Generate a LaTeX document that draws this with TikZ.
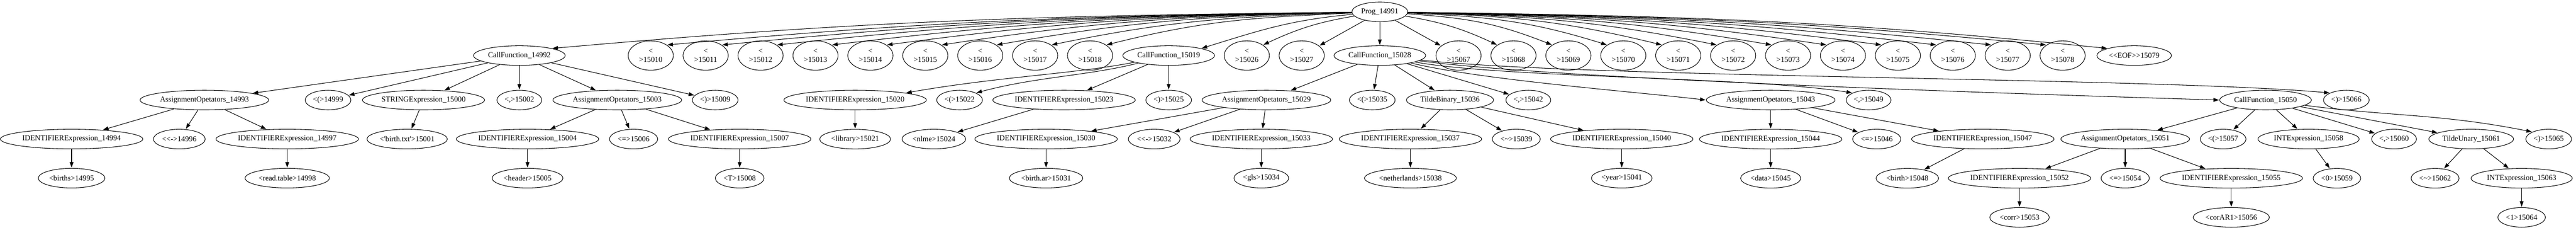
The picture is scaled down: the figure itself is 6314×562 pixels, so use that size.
\documentclass[tikz,border=0pt]{standalone}
\usepackage{fontspec}
\setmainfont{Liberation Serif}[Ligatures=TeXOff]
\usetikzlibrary{positioning,arrows.meta,shapes.geometric}

\begin{document}
\begin{tikzpicture}[x=0.75pt, y=-0.75pt, shorten >= 1pt, node distance=71.8pt and 100.95pt, on grid,
	ast/.style={draw, ellipse, line width=1pt, inner xsep=2pt, inner ysep=1pt, minimum height=36pt, font=\fontsize{14pt}{16.8pt}\selectfont},
	nltok/.style={ast, align=center, minimum width=83pt, minimum height=54pt},
	gvcurve/.style 2 args={to path={.. controls #1 and #2 .. (\tikztotarget) \tikztonodes}},
	>={Triangle[length=10pt, width=7pt]}]
\useasboundingbox (0,0) rectangle (6314,562);
% row 0
\node[ast]   (prog)     at (3382,29)           {Prog\_14991};
% row 1
\node[ast]   (cf14992)  at (1273,136)          {CallFunction\_14992};
\node[nltok] (nl15010)  at (1595,136)          {<\\>15010};
\node[nltok] (nl15011)  [right=of nl15010]     {<\\>15011};
\node[nltok] (nl15012)  [right=of nl15011]     {<\\>15012};
\node[nltok] (nl15013)  [right=of nl15012]     {<\\>15013};
\node[nltok] (nl15014)  [right=of nl15013]     {<\\>15014};
\node[nltok] (nl15015)  [right=of nl15014]     {<\\>15015};
\node[nltok] (nl15016)  [right=of nl15015]     {<\\>15016};
\node[nltok] (nl15017)  [right=of nl15016]     {<\\>15017};
\node[nltok] (nl15018)  [right=of nl15017]     {<\\>15018};
\node[ast]   (cf15019)  at (2864.5,136)        {CallFunction\_15019};
\node[nltok] (nl15026)  at (3056,136)          {<\\>15026};
\node[nltok] (nl15027)  [right=of nl15026]     {<\\>15027};
\node[ast]   (cf15028)  at (3382,136)          {CallFunction\_15028};
\node[nltok] (nl15067)  at (3575,136)          {<\\>15067};
\node[nltok] (nl15068)  [right=of nl15067]     {<\\>15068};
\node[nltok] (nl15069)  [right=of nl15068]     {<\\>15069};
\node[nltok] (nl15070)  [right=of nl15069]     {<\\>15070};
\node[nltok] (nl15071)  [right=of nl15070]     {<\\>15071};
\node[nltok] (nl15072)  [right=of nl15071]     {<\\>15072};
\node[nltok] (nl15073)  [right=of nl15072]     {<\\>15073};
\node[nltok] (nl15074)  [right=of nl15073]     {<\\>15074};
\node[nltok] (nl15075)  [right=of nl15074]     {<\\>15075};
\node[nltok] (nl15076)  [right=of nl15075]     {<\\>15076};
\node[nltok] (nl15077)  [right=of nl15076]     {<\\>15077};
\node[nltok] (nl15078)  [right=of nl15077]     {<\\>15078};
\node[ast]   (eof15079) at (5231,136)          {<<EOF>>15079};
% row 2
\node[ast]   (ao14993)  at (501,245)           {AssignmentOpetators\_14993};
\node[ast]   (lp14999)  at (804,245)           {<(>14999};
\node[ast]   (str15000) at (1038,245)          {STRINGExpression\_15000};
\node[ast]   (cm15002)  at (1273,245)          {<,>15002};
\node[ast]   (ao15003)  at (1513,245)          {AssignmentOpetators\_15003};
\node[ast]   (rp15009)  at (1753,245)          {<)>15009};
\node[ast]   (id15020)  at (2096,245)          {IDENTIFIERExpression\_15020};
\node[ast]   (lp15022)  at (2352,245)          {<(>15022};
\node[ast]   (id15023)  at (2608,245)          {IDENTIFIERExpression\_15023};
\node[ast]   (rp15025)  at (2864.5,245)        {<)>15025};
\node[ast]   (ao15029)  at (3104,245)          {AssignmentOpetators\_15029};
\node[ast]   (lp15035)  at (3363.5,245)        {<(>15035};
\node[ast]   (tb15036)  at (3554,245)          {TildeBinary\_15036};
\node[ast]   (cm15042)  at (3746,245)          {<,>15042};
\node[ast]   (ao15043)  at (4340,245)          {AssignmentOpetators\_15043};
\node[ast]   (cm15049)  at (4580,245)          {<,>15049};
\node[ast]   (cf15050)  at (5553,245)          {CallFunction\_15050};
\node[ast]   (rp15066)  at (5751,245)          {<)>15066};
% row 3
\node[ast]   (id14994)  at (175.5,340.5)       {IDENTIFIERExpression\_14994};
\node[ast]   (as14996)  at (439.5,340.5)       {<<->14996};
\node[ast]   (id14997)  at (704,340.5)         {IDENTIFIERExpression\_14997};
\node[ast]   (s15001)   at (998,340.5)         {<'birth.txt'>15001};
\node[ast]   (id15004)  at (1293,340.5)        {IDENTIFIERExpression\_15004};
\node[ast]   (eq15006)  at (1553,340.5)        {<=>15006};
\node[ast]   (id15007)  at (1813,340.5)        {IDENTIFIERExpression\_15007};
\node[ast]   (l15021)   [below=of id15020]     {<library>15021};
\node[ast]   (l15024)   at (2289,340.5)        {<nlme>15024};
\node[ast]   (id15030)  at (2564,340.5)        {IDENTIFIERExpression\_15030};
\node[ast]   (as15032)  at (2829,340.5)        {<<->15032};
\node[ast]   (id15033)  at (3091.5,340.5)      {IDENTIFIERExpression\_15033};
\node[ast]   (id15037)  at (3457,340.5)        {IDENTIFIERExpression\_15037};
\node[ast]   (tl15039)  at (3716.5,340.5)      {<\textasciitilde>15039};
\node[ast]   (id15040)  at (3975,340.5)        {IDENTIFIERExpression\_15040};
\node[ast]   (id15044)  [below=of ao15043]     {IDENTIFIERExpression\_15044};
\node[ast]   (eq15046)  at (4600,340.5)        {<=>15046};
\node[ast]   (id15047)  at (4860,340.5)        {IDENTIFIERExpression\_15047};
\node[ast]   (ao15051)  at (5209,340.5)        {AssignmentOpetators\_15051};
\node[ast]   (lp15057)  at (5449,340.5)        {<(>15057};
\node[ast]   (ie15058)  at (5658.5,340.5)      {INTExpression\_15058};
\node[ast]   (cm15060)  at (5868,340.5)        {<,>15060};
\node[ast]   (tu15061)  at (6057,340.5)        {TildeUnary\_15061};
\node[ast]   (rp15065)  at (6247,340.5)        {<)>15065};
% row 4
\node[ast]   (l14995)   [below=of id14994]     {<births>14995};
\node[ast]   (l14998)   [below=of id14997]     {<read.table>14998};
\node[ast]   (l15005)   [below=of id15004]     {<header>15005};
\node[ast]   (l15008)   [below=of id15007]     {<T>15008};
\node[ast]   (l15031)   [below=of id15030]     {<birth.ar>15031};
\node[ast]   (l15034)   [below=of id15033]     {<gls>15034};
\node[ast]   (l15038)   [below=of id15037]     {<netherlands>15038};
\node[ast]   (l15041)   [below=of id15040]     {<year>15041};
\node[ast]   (l15045)   [below=of id15044]     {<data>15045};
\node[ast]   (l15048)   at (4675,436.5)        {<birth>15048};
\node[ast]   (id15052)  at (4950,436.5)        {IDENTIFIERExpression\_15052};
\node[ast]   (eq15054)  [below=of ao15051]     {<=>15054};
\node[ast]   (id15055)  at (5469,436.5)        {IDENTIFIERExpression\_15055};
\node[ast]   (l15059)   at (5728,436.5)        {<0>15059};
\node[ast]   (tl15062)  at (5968.6,436.5)      {<\textasciitilde>15062};
\node[ast]   (ie15063)  at (6180.7,436.5)      {INTExpression\_15063};
% row 5
\node[ast]   (l15053)   [below=of id15052]     {<corr>15053};
\node[ast]   (l15056)   [below=of id15055]     {<corAR1>15056};
\node[ast]   (l15064)   [below=of ie15063]     {<1>15064};

\path[->, line width=1pt]
	(prog)    edge[gvcurve={+(-856,10)}{+(783,-69)}] (cf14992.north east)
	          edge[gvcurve={+(-744,10)}{+(670,-60)}] (nl15010.north east)
	          edge[gvcurve={+(-690,10)}{+(616,-60)}] (nl15011.north east)
	          edge[gvcurve={+(-636,10)}{+(562,-60)}] (nl15012.north east)
	          edge[gvcurve={+(-582,10)}{+(508,-60)}] (nl15013.north east)
	          edge[gvcurve={+(-528,10)}{+(454,-60)}] (nl15014.north east)
	          edge[gvcurve={+(-474,10)}{+(400,-60)}] (nl15015.north east)
	          edge[gvcurve={+(-421,10)}{+(347,-60)}] (nl15016.north east)
	          edge[gvcurve={+(-367,12)}{+(293,-60)}] (nl15017.north east)
	          edge[gvcurve={+(-313,14)}{+(239,-60)}] (nl15018.north east)
	          edge[gvcurve={+(-220,20)}{+(146,-45)}] (cf15019.north east)
	          edge[gvcurve={+(-150,25)}{+(86,-40)}]  (nl15026.north east)
	          edge (nl15027)
	          edge (cf15028)
	          edge (nl15067)
	          edge[gvcurve={+(150,25)}{+(-86,-40)}]  (nl15068.north west)
	          edge[gvcurve={+(213,15)}{+(-140,-55)}] (nl15069.north west)
	          edge[gvcurve={+(267,12)}{+(-193,-60)}] (nl15070.north west)
	          edge[gvcurve={+(321,10)}{+(-247,-60)}] (nl15071.north west)
	          edge[gvcurve={+(375,10)}{+(-301,-60)}] (nl15072.north west)
	          edge[gvcurve={+(429,10)}{+(-355,-60)}] (nl15073.north west)
	          edge[gvcurve={+(483,10)}{+(-409,-60)}] (nl15074.north west)
	          edge[gvcurve={+(537,10)}{+(-463,-60)}] (nl15075.north west)
	          edge[gvcurve={+(591,10)}{+(-517,-60)}] (nl15076.north west)
	          edge[gvcurve={+(645,10)}{+(-571,-60)}] (nl15077.north west)
	          edge[gvcurve={+(699,10)}{+(-625,-60)}] (nl15078.north west)
	          edge[gvcurve={+(757,10)}{+(-683,-69)}] (eof15079.north west)
	(cf14992) edge (ao14993) edge (lp14999) edge (str15000)
	          edge (cm15002) edge (ao15003) edge (rp15009)
	(ao14993) edge (id14994) edge (as14996) edge (id14997)
	(id14994) edge (l14995)
	(id14997) edge (l14998)
	(str15000) edge (s15001)
	(ao15003) edge (id15004) edge (eq15006) edge (id15007)
	(id15004) edge (l15005)
	(id15007) edge (l15008)
	(cf15019) edge[gvcurve={+(-230,45)}{+(229,-40)}] (id15020.north east)
	          edge[gvcurve={+(-200,50)}{+(150,-40)}] (lp15022.north east)
	          edge (id15023) edge (rp15025)
	(id15020) edge (l15021)
	(id15023) edge (l15024)
	(cf15028) edge (ao15029) edge (lp15035) edge (tb15036) edge (cm15042)
	          edge[gvcurve={+(250,60)}{+(-170,-20)}] (ao15043.west)
	          edge[gvcurve={+(300,55)}{+(-250,-40)}] (cm15049.north west)
	          edge[gvcurve={+(450,60)}{+(-390,-12)}] (cf15050.west)
	          edge[gvcurve={+(500,55)}{+(-430,-38)}] (rp15066.north west)
	(ao15029) edge (id15030) edge (as15032) edge (id15033)
	(id15030) edge (l15031)
	(id15033) edge (l15034)
	(tb15036) edge (id15037) edge (tl15039) edge (id15040)
	(id15037) edge (l15038)
	(id15040) edge (l15041)
	(ao15043) edge (id15044) edge (eq15046) edge (id15047)
	(id15044) edge (l15045)
	(id15047) edge (l15048)
	(cf15050) edge (ao15051) edge (lp15057) edge (ie15058) edge (cm15060) edge (tu15061)
	          edge[gvcurve={+(300,40)}{+(-225,-45)}] (rp15065.north west)
	(ao15051) edge (id15052) edge (eq15054) edge (id15055)
	(id15052) edge (l15053)
	(id15055) edge (l15056)
	(ie15058) edge (l15059)
	(tu15061) edge (tl15062) edge (ie15063)
	(ie15063) edge (l15064);
\end{tikzpicture}
\end{document}
